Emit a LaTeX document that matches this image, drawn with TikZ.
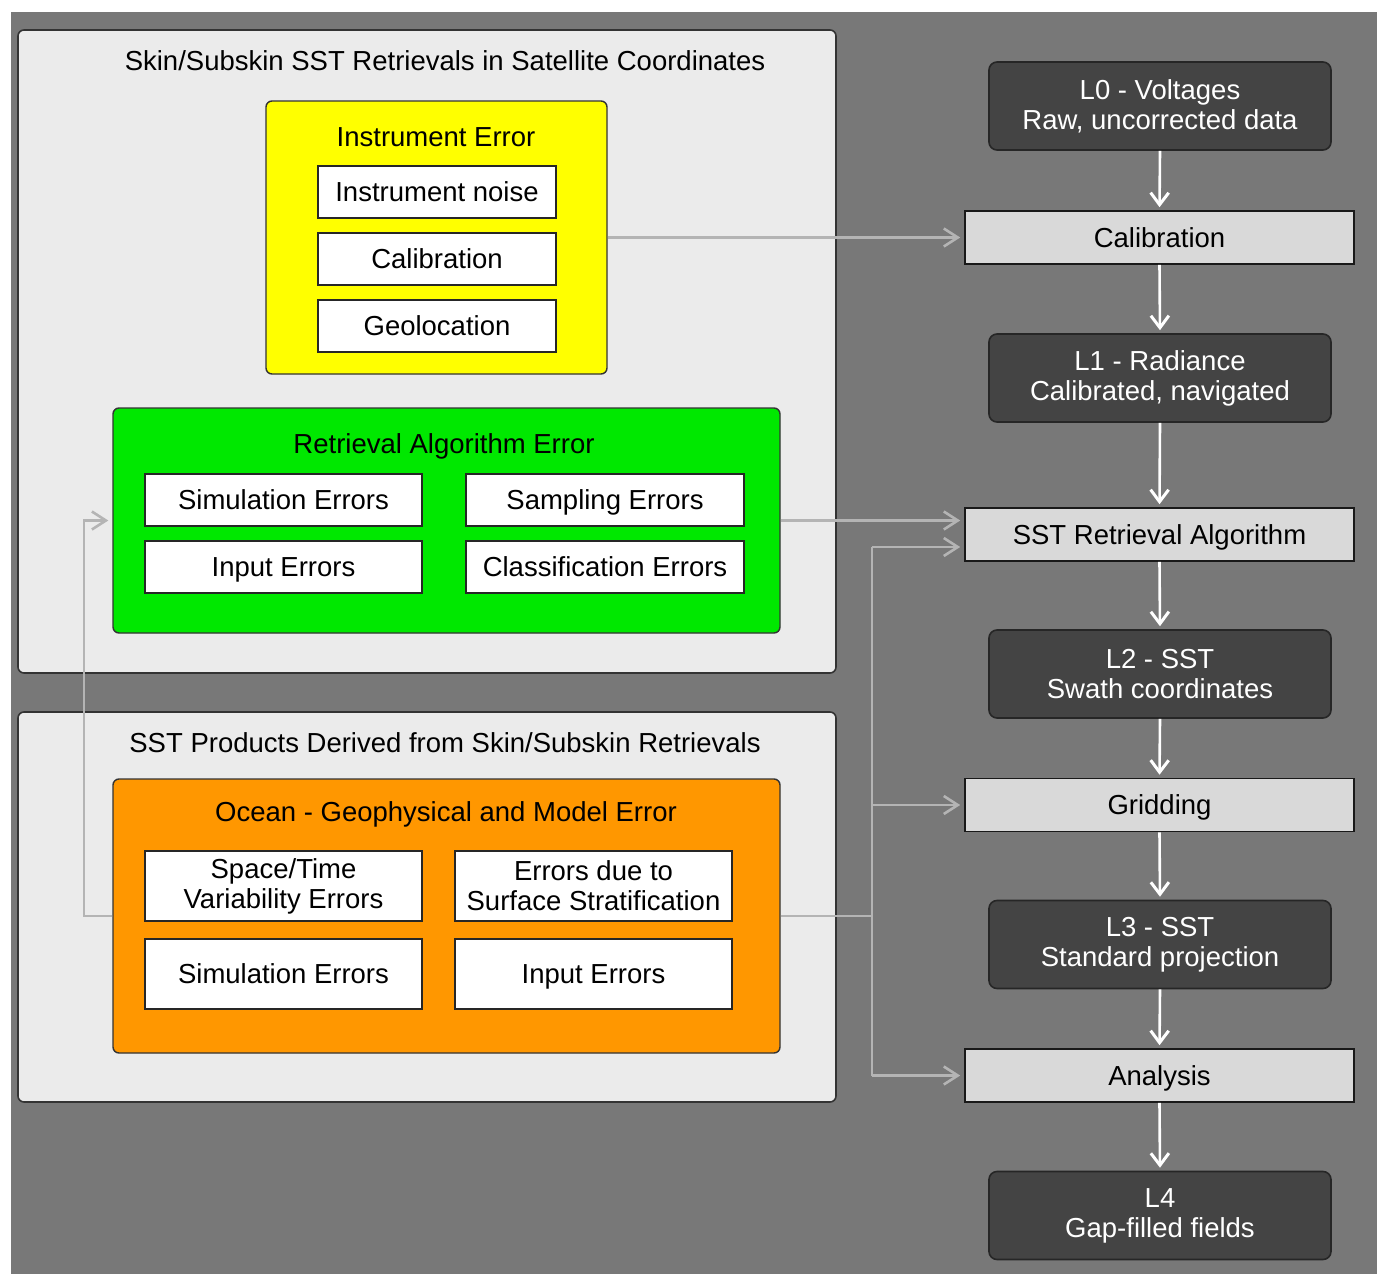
\documentclass[tikz,border=0pt]{standalone}
\usepackage{fontspec}
\setmainfont{Liberation Sans}
\usetikzlibrary{arrows.meta}
\definecolor{bggray}{HTML}{787878}
\definecolor{panelc}{HTML}{EBEBEB}
\definecolor{lightc}{HTML}{D9D9D9}
\definecolor{darkc}{HTML}{444444}
\definecolor{connc}{HTML}{B4B4B4}
\definecolor{yellowc}{HTML}{FFFF00}
\definecolor{greenc}{HTML}{00E800}
\definecolor{orangec}{HTML}{FF9700}
\tikzset{
  txt/.style={font=\fontsize{27.5}{30}\selectfont, align=center},
  sl/.style={text height=19.5pt, text depth=0pt},
  panel/.style={draw=black!80, line width=1.6pt, fill=panelc, rounded corners=6pt, inner sep=0pt},
  errbox/.style={draw=black!80, line width=1.4pt, rounded corners=6pt, inner sep=0pt},
  wbox/.style={txt, draw=black!85, line width=1.4pt, fill=white, inner sep=0pt},
  darkbox/.style={txt, text=white, draw=black!85, line width=1.6pt, fill=darkc, rounded corners=8pt, inner sep=0pt, minimum width=342pt, minimum height=88pt},
  lightbox/.style={txt, sl, draw=black!90, line width=1.6pt, fill=lightc, inner sep=0pt, minimum width=389pt, minimum height=53pt},
  conn/.style={draw=connc, line width=2.6pt},
  carrow/.style={conn, -{Straight Barb[length=14pt,width=18pt,line width=2.6pt]}, shorten >=4pt},
  warrow/.style={draw=white, line width=2.6pt, -{Straight Barb[length=12pt,width=18pt,line width=3pt]}, shorten >=3pt},
}
\begin{document}
\begin{tikzpicture}[x=1pt,y=-1pt]
\useasboundingbox (0,0) rectangle (1377,1274);
\fill[white] (0,0) rectangle (1377,1274);
\fill[bggray] (11,12) rectangle (1377,1274);

% top panel
\node[panel, minimum width=818pt, minimum height=643pt] (top) at (427,351.5) {};
\node[txt, sl] (toptitle) at (445,61) {Skin/Subskin SST Retrievals in Satellite Coordinates};
\node[errbox, fill=yellowc, minimum width=341pt, minimum height=273pt] (yel) at (436.5,237.5) {};
\node[txt, sl] (yeltitle) at (436,137) {Instrument Error};
\node[wbox, sl, minimum width=238pt, minimum height=52pt] (noise) at (437,192) {Instrument noise};
\node[wbox, sl, minimum width=238pt, minimum height=52pt] (ical) at (437,259) {Calibration};
\node[wbox, sl, minimum width=238pt, minimum height=52pt] (geo) at (437,326) {Geolocation};

\node[errbox, fill=greenc, minimum width=667pt, minimum height=225pt] (grn) at (446.5,520.5) {};
\node[txt, sl] (grntitle) at (444,444) {Retrieval Algorithm Error};
\node[wbox, sl, minimum width=277pt, minimum height=52pt] (sim1) at (283.5,500) {Simulation Errors};
\node[wbox, sl, minimum width=278pt, minimum height=52pt] (samp) at (605,500) {Sampling Errors};
\node[wbox, sl, minimum width=277pt, minimum height=52pt] (inp1) at (283.5,567) {Input Errors};
\node[wbox, sl, minimum width=278pt, minimum height=52pt] (clas) at (605,567) {Classification Errors};

% bottom panel
\node[panel, minimum width=818pt, minimum height=390pt] (bot) at (427,907) {};
\node[txt, sl] (bottitle) at (445,743) {SST Products Derived from Skin/Subskin Retrievals};
\node[errbox, fill=orangec, minimum width=667pt, minimum height=274pt] (org) at (446.5,916) {};
\node[txt, sl] (orgtitle) at (446,812) {Ocean - Geophysical and Model Error};
\node[wbox, minimum width=277pt, minimum height=70pt] (space) at (283.5,886) {Space/Time\\Variability Errors};
\node[wbox, minimum width=277pt, minimum height=70pt] (strat) at (593.5,886) {Errors due to\\Surface Stratification};
\node[wbox, sl, minimum width=277pt, minimum height=70pt] (sim2) at (283.5,974) {Simulation Errors};
\node[wbox, sl, minimum width=277pt, minimum height=70pt] (inp2) at (593.5,974) {Input Errors};

% right column
\node[darkbox] (l0) at (1160,106) {L0 - Voltages\\Raw, uncorrected data};
\node[lightbox] (cal) at (1159.5,237.5) {Calibration};
\node[darkbox] (l1) at (1160,378) {L1 - Radiance\\Calibrated, navigated};
\node[lightbox] (sst) at (1159.5,534.5) {SST Retrieval Algorithm};
\node[darkbox] (l2) at (1160,674) {L2 - SST\\Swath coordinates};
\node[lightbox] (grid) at (1159.5,805) {Gridding};
\node[darkbox] (l3) at (1160,944.5) {L3 - SST\\Standard projection};
\node[lightbox] (ana) at (1159.5,1075.5) {Analysis};
\node[darkbox] (l4) at (1160,1215.5) {L4\\Gap-filled fields};

\draw[warrow] (l0.south) -- (cal.north);
\draw[warrow] (cal.south) -- (l1.north);
\draw[warrow] (l1.south) -- (sst.north);
\draw[warrow] (sst.south) -- (l2.north);
\draw[warrow] (l2.south) -- (grid.north);
\draw[warrow] (grid.south) -- (l3.north);
\draw[warrow] (l3.south) -- (ana.north);
\draw[warrow] (ana.south) -- (l4.north);

% gray connectors
\draw[carrow] (yel.east) -- (yel.east -| cal.west);
\draw[carrow] (grn.east) -- (grn.east -| sst.west);
\coordinate (lx) at (84,0);
\draw[carrow] (org.west) -- (org.west -| lx) |- (grn.west);
\coordinate (bx) at (872,0);
\coordinate (b1) at (872,547);
\coordinate (b3) at (bx |- ana.west);
\draw[conn] (org.east) -- (org.east -| bx);
\draw[conn] (b1) -- (b3);
\draw[carrow] (b1) -- (b1 -| sst.west);
\draw[carrow] (bx |- grid.west) -- (grid.west);
\draw[carrow] (b3) -- (ana.west);
\end{tikzpicture}
\end{document}
